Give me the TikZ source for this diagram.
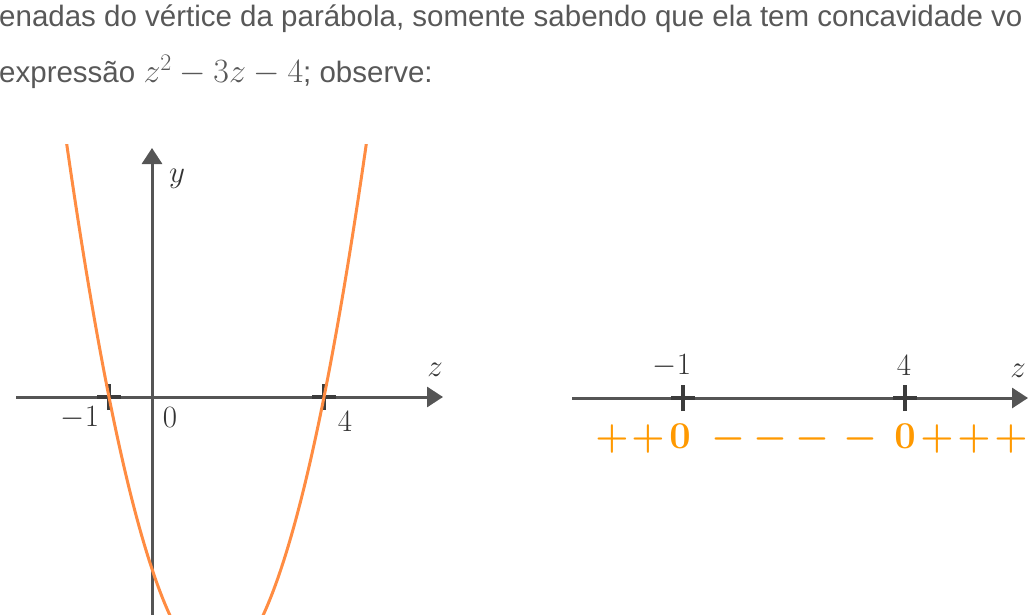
\RequirePackage{fix-cm}
\documentclass[tikz,border=0pt]{standalone}
\usepackage{fontspec}
\setmainfont{Liberation Sans}
\usetikzlibrary{arrows.meta}
\definecolor{txtgray}{RGB}{88,88,88}
\definecolor{axgray}{RGB}{85,85,85}
\definecolor{tickgray}{RGB}{60,60,60}
\definecolor{curveor}{RGB}{255,140,66}
\definecolor{signor}{RGB}{255,153,0}
\newcommand{\mathbig}[1]{{\fontsize{34}{36}\selectfont$#1$}}
\begin{document}
\begin{tikzpicture}[x=1pt,y=-1pt,
  bodytext/.style={inner sep=0pt,anchor=base west,text=txtgray,font=\fontsize{29.5}{31}\selectfont},
  axis/.style={draw=axgray,line width=3pt,-{Triangle[length=16pt,width=20pt]}},
  tickmark/.style={draw=tickgray,line width=4pt},
  lbl/.style={inner sep=0pt,text=black!80,font=\fontsize{31}{33}\selectfont},
  sign/.style={inner sep=0pt,anchor=base,text=signor,font=\fontsize{38}{40}\selectfont\boldmath},
  curve/.style={draw=curveor,line width=3pt}]
\useasboundingbox (0,0) rectangle (1028,615);
% text lines
\node[bodytext] (l1) at (-1,27) {enadas do vértice da parábola, somente sabendo que ela tem concavidade vo};
\node[bodytext] (l2) at (-1,83) {expressão \mathbig{z^2-3z-4}; observe:};
% left graph
\coordinate (xs) at (16,397);
\coordinate (xe) at (443,397);
\coordinate (yb) at (152,620);
\coordinate (ye) at (152,148);
\draw[axis] (xs) -- (xe);
\draw[axis] (yb) -- (ye);
\coordinate (t1) at (109,397);
\coordinate (t4) at (324,397);
\foreach \c in {t1,t4}{
  \draw[tickmark] ([yshift=-13pt]\c) -- ([yshift=13pt]\c);
  \draw[tickmark] ([xshift=-12pt]\c) -- ([xshift=12pt]\c);
}
\begin{scope}
\clip (0,145) rectangle (1028,615);
\draw[curve] plot[domain=-2.1:5.1,samples=120,smooth] ({152+43*\x},{397-43*(\x*\x-3*\x-4)});
\end{scope}
\node[lbl] (lm1) at (80,418) {$-1$};
\node[lbl] (l0) at (170,418) {$0$};
\node[lbl] (l4) at (345,422) {$4$};
\node[lbl] (lz) at (435,370) {$z$};
\node[lbl] (ly) at (177,179) {$y$};
% right number line
\coordinate (rs) at (572,398);
\coordinate (re) at (1028,398);
\draw[axis] (rs) -- (re);
\coordinate (r1) at (683,398);
\coordinate (r4) at (905,398);
\foreach \c in {r1,r4}{
  \draw[tickmark] ([yshift=-13pt]\c) -- ([yshift=13pt]\c);
  \draw[tickmark] ([xshift=-12pt]\c) -- ([xshift=12pt]\c);
}
\node[lbl] (rm1) at (672,366) {$-1$};
\node[lbl] (r4l) at (904,366) {$4$};
\node[lbl] (rz) at (1018,371) {$z$};
% signs
\node[sign] (s1) at (612,448) {$+$};
\node[sign] (s2) at (648,448) {$+$};
\node[sign] (s3) at (680,448) {$0$};
\node[sign] (s4) at (728,448) {$-$};
\node[sign] (s5) at (770,448) {$-$};
\node[sign] (s6) at (812,448) {$-$};
\node[sign] (s7) at (860,448) {$-$};
\node[sign] (s8) at (905,448) {$0$};
\node[sign] (s9) at (937,448) {$+$};
\node[sign] (s10) at (974,448) {$+$};
\node[sign] (s11) at (1011,448) {$+$};
\end{tikzpicture}
\end{document}
